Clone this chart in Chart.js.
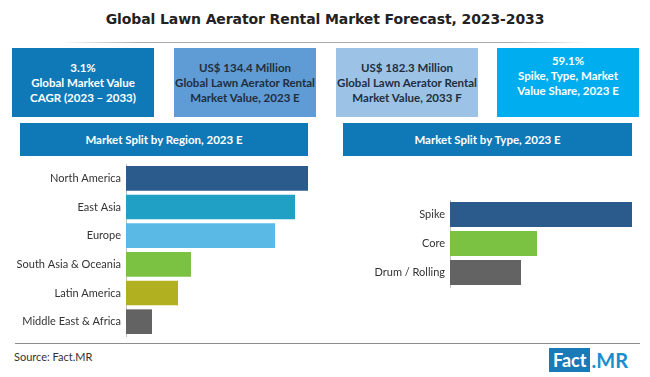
<!DOCTYPE html>
<html>
<head>
<meta charset="utf-8">
<script src="https://cdn.jsdelivr.net/npm/chart.js@4.4.1/dist/chart.umd.min.js"></script>
<style>
  body { margin: 0; width: 650px; height: 377px; background: #fff; position: relative; overflow: hidden; font-family: Lato, "Open Sans", sans-serif; }
  .abs { position: absolute; }
  #title { left: 0; width: 650px; top: 11px; text-align: center; font: bold 14px "DejaVu Sans", sans-serif; color: #222; letter-spacing: -0.1px; }
  #titleLine { left: 60px; width: 530px; top: 42px; height: 1px; background: linear-gradient(to right, rgba(170,170,170,0), #aaa 15%, #aaa 85%, rgba(170,170,170,0)); }
  .kpi { top: 48px; width: 142px; height: 69px; color: #fff; font-weight: bold; font-size: 11.5px; line-height: 15px; text-align: center; display: flex; align-items: center; justify-content: center; box-sizing: border-box; }
  .head { top: 123px; height: 33px; background: #0f79b7; color: #fff; font-weight: bold; font-size: 11.5px; display: flex; align-items: center; justify-content: center; }
  #bottomLine { left: 15px; width: 625px; top: 343px; height: 1px; background: #8c8c8c; }
  #source { left: 14px; top: 350px; font-size: 11px; color: #333; }
  #logo { left: 549px; top: 348px; height: 24px; font: bold 18px Lato, sans-serif; display: flex; }
  #logo .f { background: #1a7ab8; color: #fff; padding: 0 4px; line-height: 24px; }
  #logo .m { color: #1a8fd0; line-height: 24px; padding-left: 1px; font-size: 20px; }
</style>
</head>
<body>
<div class="abs" id="title">Global Lawn Aerator Rental Market Forecast, 2023-2033</div>
<div class="abs" id="titleLine"></div>

<div class="abs kpi" style="left:12px;background:#0f79b7;">3.1%<br>Global Market Value<br>CAGR (2023 – 2033)</div>
<div class="abs kpi" style="left:174px;background:#5f9bd4;color:#1f2f40;">US$ 134.4 Million<br>Global Lawn Aerator Rental<br>Market Value, 2023 E</div>
<div class="abs kpi" style="left:336px;background:#9cc2e6;color:#1f2f40;">US$ 182.3 Million<br>Global Lawn Aerator Rental<br>Market Value, 2033 F</div>
<div class="abs kpi" style="left:497px;background:#00aeef;padding-bottom:15px;">59.1%<br>Spike, Type, Market<br>Value Share, 2023 E</div>

<div class="abs head" style="left:20px;width:288px;">Market Split by Region, 2023 E</div>
<div class="abs head" style="left:343px;width:289px;">Market Split by Type, 2023 E</div>

<canvas class="abs" id="regionChart" style="left:0;top:158px;" width="330" height="184"></canvas>
<canvas class="abs" id="typeChart" style="left:330px;top:195px;" width="320" height="97"></canvas>

<div class="abs" id="bottomLine"></div>
<div class="abs" id="source">Source: Fact.MR</div>
<div class="abs" id="logo"><span class="f">Fact</span><span class="m">.MR</span></div>

<script>
// values (relative units)
const regions = ["North America", "East Asia", "Europe", "South Asia & Oceania", "Latin America", "Middle East & Africa"];
const regionValues = [182, 169, 149, 65, 52, 26];
const regionColors = ["#2a5b8c", "#20a0c4", "#5bb9e6", "#7cc242", "#b0b020", "#636363"];
const regionMax = 194;

const types = ["Spike", "Core", "Drum / Rolling"];
const typeValues = [182, 87, 71];
const typeColors = ["#2a5b8c", "#7cc242", "#636363"];
const typeMax = 190;

function barChart(id, labels, values, colors, max, axisWidth, barPct, pad) {
  return new Chart(document.getElementById(id), {
    type: "bar",
    data: {
      labels: labels,
      datasets: [{
        data: values,
        backgroundColor: colors,
        borderWidth: 0,
        categoryPercentage: 1,
        barPercentage: barPct
      }]
    },
    options: {
      indexAxis: "y",
      responsive: false,
      animation: false,
      layout: { padding: pad },
      plugins: { legend: { display: false }, tooltip: { enabled: false } },
      scales: {
        x: { display: false, min: 0, max: max },
        y: {
          grid: { display: false, drawTicks: false },
          border: { display: true, color: "#c4c4c4", width: 1 },
          ticks: { color: "#333", padding: 5, font: { family: "Lato", size: 11 } },
          afterFit: function (scale) {
            scale.width = axisWidth;
            // keep the bars filling the plot height
            scale.paddingTop = 0;
            scale.paddingBottom = 0;
          }
        }
      }
    }
  });
}

barChart("regionChart", regions, regionValues, regionColors, regionMax, 126, 0.86, { top: 6, bottom: 6, right: 10 });
barChart("typeChart", types, typeValues, typeColors, typeMax, 120, 0.86, { top: 5, bottom: 5, right: 10 });
</script>
</body>
</html>
